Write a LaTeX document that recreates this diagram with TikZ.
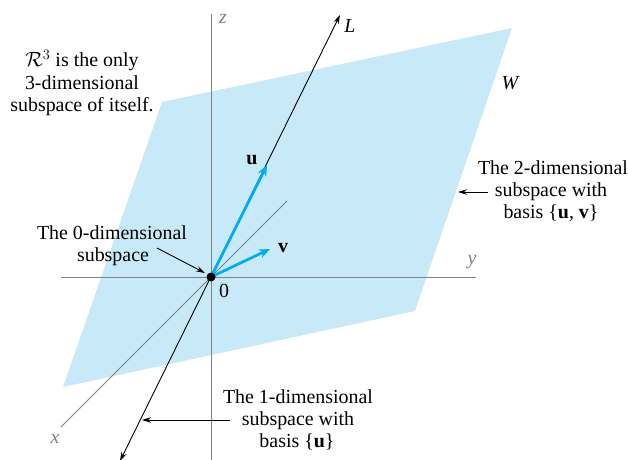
\documentclass[tikz,border=0pt]{standalone}
\usepackage{fontspec}
\setmainfont{Liberation Serif}
\usetikzlibrary{arrows.meta}
\definecolor{planeblue}{HTML}{C8E9F8}
\definecolor{vecblue}{HTML}{00AEEF}
\definecolor{axisgray}{HTML}{808080}
\begin{document}
\begin{tikzpicture}[x=1bp,y=-1bp,
  txt/.style={font=\fontsize{20}{23}\selectfont,inner sep=0pt,anchor=base},
  itxt/.style={txt,font=\fontsize{20}{23}\selectfont\itshape},
  axislbl/.style={itxt,text=axisgray},
  axisline/.style={draw=axisgray,line width=0.8bp},
  blk/.style={line width=0.9bp,-{Stealth[length=9bp,width=5.5bp]}},
  vec/.style={draw=vecblue,line width=2.7bp,-{Stealth[length=11bp,width=9bp]}}]
\useasboundingbox (0,0) rectangle (628,460);
% plane W
\fill[planeblue] (162,102) -- (512,28) -- (415,311) -- (63,387) -- cycle;
% axes
\coordinate (O) at (211,277);
\coordinate (ztop) at (211,14);
\coordinate (zbot) at (211,460);
\coordinate (yleft) at (61,277);
\coordinate (yright) at (476,277);
\coordinate (xtop) at (287,201);
\coordinate (xbot) at (61,427);
\draw[axisline] (zbot) -- (ztop);
\draw[axisline] (yleft) -- (yright);
\draw[axisline] (xtop) -- (xbot);
\node[axislbl] (zl) at (223,24) {z};
\node[axislbl] (yl) at (472,265) {y};
\node[axislbl] (xl) at (55,443) {x};
% line L
\coordinate (Ltop) at (340,15);
\coordinate (Lbot) at (120,461);
\draw[line width=0.9bp,{Stealth[length=9bp,width=5.5bp]}-{Stealth[length=9bp,width=5.5bp]}] (Lbot) -- (Ltop);
\node[itxt] (Ll) at (350,33) {L};
% vectors
\coordinate (utip) at (267,165);
\coordinate (vtip) at (270,249);
\draw[vec] (O) -- (utip);
\draw[vec] (O) -- (vtip);
\node[txt] (ul) at (252,165) {\textbf{u}};
\node[txt] (vl) at (283,253) {\textbf{v}};
\fill (O) circle (4.5bp);
\node[txt] (zero) at (224,298) {0};
\node[itxt] (Wl) at (510,90) {W};
% R3 text
\node[txt] (r1) at (82,67) {$\mathcal{R}^3$ is the only};
\node[txt] (r2) at (82,90) {3-dimensional};
\node[txt] (r3) at (82,112) {subspace of itself.};
% 2-dim text
\node[txt] (t1) at (553,175) {The 2-dimensional};
\node[txt] (t2) at (551,197) {subspace with};
\node[txt] (t3) at (551,219) {basis \{\textbf{u}, \textbf{v}\}};
\coordinate (a2s) at (488,192);
\coordinate (a2e) at (458,192);
\draw[blk] (a2s) -- (a2e);
% 0-dim text
\node[txt] (z1) at (112,240) {The 0-dimensional};
\node[txt] (z2) at (113,262) {subspace};
\coordinate (a0s) at (157,248);
\coordinate (a0e) at (205,273);
\draw[blk] (a0s) -- (a0e);
% 1-dim text
\node[txt] (o1) at (298,403) {The 1-dimensional};
\node[txt] (o2) at (298,425) {subspace with};
\node[txt] (o3) at (297,447) {basis \{\textbf{u}\}};
\coordinate (a1s) at (230,420);
\coordinate (a1e) at (142,420);
\draw[blk] (a1s) -- (a1e);
\end{tikzpicture}
\end{document}
